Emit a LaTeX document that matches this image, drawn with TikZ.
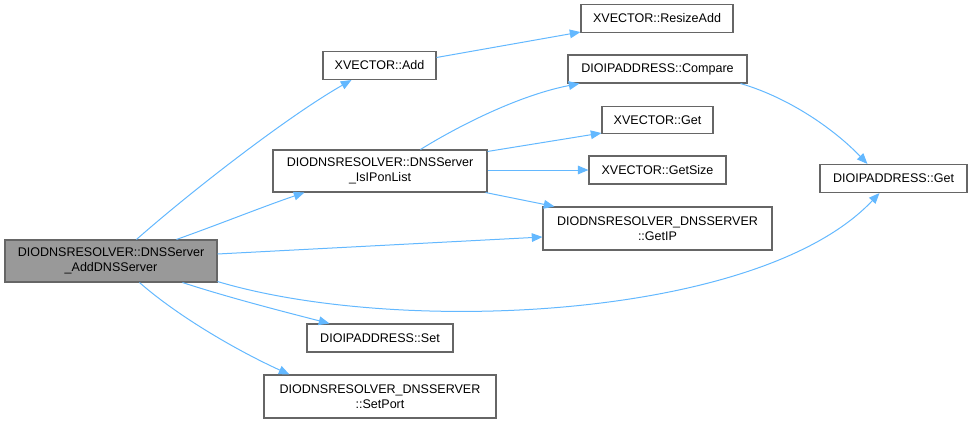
\documentclass[tikz,border=0pt]{standalone}
\usepackage{fontspec}
\setmainfont{Liberation Sans}
\usetikzlibrary{arrows.meta,calc}
\definecolor{edgeblue}{HTML}{63B8FF}
\definecolor{boxgray}{HTML}{666666}
\definecolor{mainfill}{HTML}{999999}

\begin{document}
\begin{tikzpicture}[
  x=0.75pt,y=-0.75pt,
  func/.style={rectangle,draw=boxgray,fill=white,inner sep=0pt,align=center,
    line width=0.8pt,font=\fontsize{9.4}{11.3}\selectfont},
  mainfunc/.style={func,fill=mainfill},
  wh/.style 2 args={minimum width=#1*0.75pt,minimum height=#2*0.75pt},
  call/.style={-{Triangle[length=8pt,width=6.5pt]},edgeblue,line width=0.75pt},
]
\useasboundingbox (0,0) rectangle (973,424);

% caller
\node[mainfunc,wh={212}{42}] (main) at (111,261) {DIODNSRESOLVER::DNSServer\\\_AddDNSServer};

% direct callees
\node[func,wh={113}{28}] (add) at (379.5,65.5) {XVECTOR::Add};
\node[func,wh={214}{42}] (isip) at (380,171) {DIODNSRESOLVER::DNSServer\\\_IsIPonList};
\node[func,wh={146}{28}] (ipset) at (380,338) {DIOIPADDRESS::Set};
\node[func,wh={232}{43}] (setport) at (380,396.5) {DIODNSRESOLVER\_DNSSERVER\\::SetPort};

% second level
\node[func,wh={152}{28}] (resize) at (657,18.5) {XVECTOR::ResizeAdd};
\node[func,wh={179}{28}] (compare) at (657.5,69) {DIOIPADDRESS::Compare};
\node[func,wh={111}{27}] (vget) at (657.5,120) {XVECTOR::Get};
\node[func,wh={137}{28}] (vsize) at (657.5,170) {XVECTOR::GetSize};
\node[func,wh={229}{43}] (getip) at (657.5,228.5) {DIODNSRESOLVER\_DNSSERVER\\::GetIP};
\node[func,wh={147}{28}] (ipget) at (893.5,178.5) {DIOIPADDRESS::Get};

% calls from the caller
\draw[call] ($(main.north west)+(132,0)$) .. controls (195,188) and (290,115) .. ($(add.south west)+(29,0)$);
\draw[call] ($(main.north west)+(172,0)$) .. controls (220,224) and (262,207) .. ($(isip.south west)+(32,0)$);
\draw[call] ($(main.east)+(0,-7)$) -- ($(getip.west)+(0,8.5)$);
\draw[call] ($(main.south east)+(0,-1)$) .. controls (400,336) and (760,320) .. ($(ipget.south)+(-14,0)$);
\draw[call] ($(main.south west)+(178,0)$) .. controls (230,298) and (285,312) .. ($(ipset.north west)+(23,0)$);
\draw[call] ($(main.south west)+(135,0)$) .. controls (180,318) and (240,352) .. ($(setport.north west)+(26,0)$);

% calls further down
\draw[call] ($(add.east)+(0,-8)$) -- ($(resize.south west)+(0,-1)$);
\draw[call] ($(isip.north west)+(148,0)$) .. controls (460,125) and (520,95) .. ($(compare.south west)+(12,0)$);
\draw[call] ($(isip.north east)+(0,2)$) -- ($(vget.south west)+(0,-1)$);
\draw[call] (isip.east |- vsize.west) -- (vsize.west);
\draw[call] ($(isip.south east)+(-2,0)$) -- ($(getip.north west)+(12,0)$);
\draw[call] ($(compare.south east)+(-7,0)$) .. controls (790,98) and (835,130) .. ($(ipget.north west)+(48,0)$);

\end{tikzpicture}
\end{document}
